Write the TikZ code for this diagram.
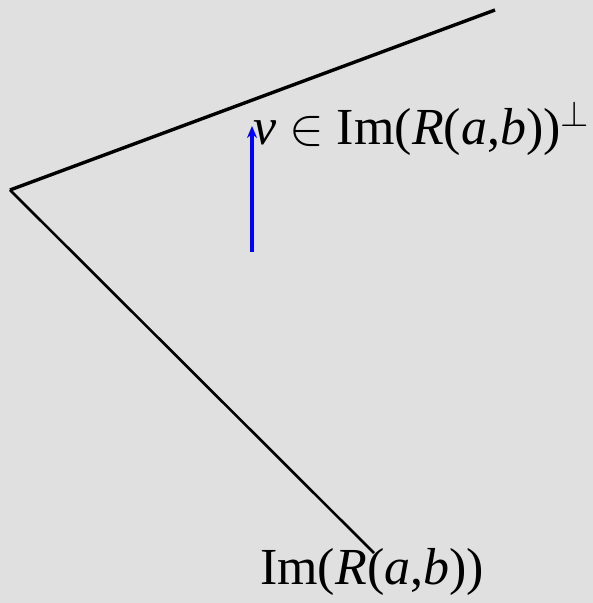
\documentclass[tikz,border=0pt]{standalone}
\usepackage{fix-cm}
\usepackage{fontspec}
\setmainfont{Liberation Serif}
\usetikzlibrary{arrows.meta}
\definecolor{bg}{HTML}{E0E0E0}

\begin{document}
\begin{tikzpicture}[x=1pt,y=1pt,>={Stealth[length=12pt,width=10pt]},
  lbl/.style={inner sep=0pt,font=\fontsize{52}{60}\selectfont}]
\fill[bg] (0,0) rectangle (593,603);
\useasboundingbox (0,0) rectangle (593,603);
\coordinate (o) at (10,413);
\coordinate (u) at (495,593);
\coordinate (l) at (374,50);
\coordinate (vt) at (252,351);
\coordinate (vh) at (252,477);
\draw[line width=3.4pt] (o)--(u);
\draw[line width=2.6pt] (o)--(l);
\draw[->,blue,line width=3.4pt] (vt)--(vh);
\node[lbl,anchor=base west] (perp) at (253,458) {\textit{v} $\in$ Im(\textit{R}(\textit{a},\textit{b}))$^{\perp}$};
\node[lbl,anchor=base west] (img) at (260,18) {Im(\textit{R}(\textit{a},\textit{b}))};
\end{tikzpicture}
\end{document}
